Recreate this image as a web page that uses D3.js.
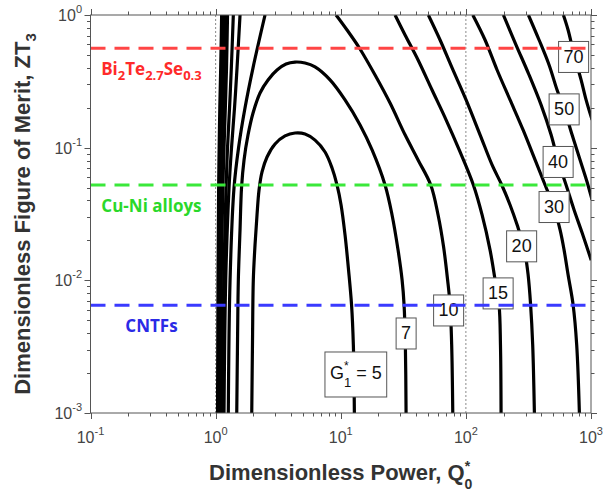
<!DOCTYPE html>
<html><head><meta charset="utf-8">
<script src="https://cdn.jsdelivr.net/npm/d3@7"></script>
<style>body{margin:0;background:#fff}</style>
</head><body>
<svg id="chart" width="604" height="493"></svg>
<script>
// ---------------- data ----------------
const xMajor = [0.1, 1, 10, 100, 1000];
const xMajorExp = ["-1", "0", "1", "2", "3"];
const yMajor = [0.001, 0.01, 0.1, 1];
const yMajorExp = ["-3", "-2", "-1", "0"];
const refQ = [1, 100];

const materialNames = ["Bi2Te2.7Se0.3", "Cu-Ni alloys", "CNTFs"];
const materialZT = [0.562, 0.0523, 0.00648];
const materialColor = ["#ff4545", "#3ae83a", "#3a3aff"];
const materialTextColor = ["#ff2a2a", "#2ad82a", "#2a2ae6"];
const materialLabelQ = 0.307;

// left legs of the higher contours (read at fixed ZT rows)
const leftLegZT = [0.001, 0.01, 0.05, 0.1, 0.2, 0.4, 1];
const left10 = [1.263, 1.304, 1.403, 1.525, 1.718, 1.990, 2.483];
const left15 = [1.167, 1.204, 1.280, 1.340, 1.416, 1.483, 1.567];
const left20 = [1.133, 1.161, 1.211, 1.245, 1.292, 1.335, 1.385];
const left30 = [1.088, 1.109, 1.142, 1.167, 1.196, 1.222, 1.245];
const left40 = [1.069, 1.084, 1.111, 1.131, 1.157, 1.178, 1.200];
const left50 = [1.051, 1.063, 1.080, 1.096, 1.117, 1.138, 1.157];
const left70 = [1.036, 1.045, 1.057, 1.067, 1.080, 1.098, 1.117];

// closed arches
const g5Q  = [1.944,1.972,2.001,2.065,2.142,2.223,2.349,2.576,2.985,3.587,4.312,5.184,6.231,7.490,8.520,9.344,10.06,10.82,11.54,12.20,12.61,12.85];
const g5ZT = [0.001,0.00356,0.0101,0.0185,0.0311,0.0480,0.0656,0.0851,0.1066,0.1226,0.129,0.1268,0.114,0.0928,0.0703,0.0523,0.0370,0.0220,0.0120,0.00653,0.00326,0.001];
const g7Q  = [1.475,1.497,1.519,1.567,1.611,1.687,1.816,1.991,2.264,2.624,3.096,3.653,4.312,5.184,6.231,8.212,10.82,14.27,17.80,22.60,25.71,28.71,30.91,32.07,32.84,33.27];
const g7ZT = [0.001,0.00356,0.0101,0.0240,0.05,0.0808,0.125,0.1826,0.2584,0.324,0.385,0.427,0.442,0.4347,0.4058,0.324,0.229,0.1483,0.0961,0.0523,0.0311,0.0169,0.0101,0.00653,0.00326,0.001];

// right legs
const r10Q  = [9.173,11.23,14.09,18.80,24.78,32.66,41.49,52.41,59.97,66.34,71.42,74.78,77.01,78.59];
const r10ZT = [1,0.771,0.564,0.353,0.217,0.125,0.0808,0.0523,0.0311,0.0179,0.0101,0.00653,0.00326,0.001];
const r15Q  = [27.16,32.66,41.49,53.68,69.46,89.87,114.8,134.8,156.1,171.2,184.2,189.0,191.1];
const r15ZT = [1,0.707,0.458,0.272,0.162,0.0928,0.0523,0.0311,0.0169,0.0101,0.00653,0.00326,0.001];
const r20Q  = [50.14,62.22,77.60,100.4,129.9,162.0,193.6,225.6,256.7,291.9,314.4,329.1,342.0,352.9];
const r20ZT = [1,0.648,0.399,0.229,0.125,0.0741,0.0523,0.0370,0.0262,0.0175,0.0110,0.00653,0.00326,0.001];
const r30Q  = [113.6,142.4,177.6,225.6,286.6,357.4,429.7,504.2,566.2,609.6,656.1,719.6,768.6,807.7];
const r30ZT = [1,0.648,0.385,0.229,0.136,0.0808,0.0523,0.0357,0.0240,0.0169,0.0110,0.00653,0.00326,0.001];
const r40Q  = [199.4,252.0,320.1,399.1,479.8,545.7,632.3,732.8,849.0,1004];
const r40ZT = [1,0.594,0.353,0.210,0.125,0.0794,0.0523,0.0339,0.0228,0.0142];
const r50Q  = [316.1,384.7,462.5,535.8,609.6,706.2,818.3,930.6,1020];
const r50ZT = [1,0.648,0.420,0.272,0.196,0.125,0.0808,0.0551,0.0404];
const r70Q  = [601.8,656.1,739.5,833.5,913.7,1020];
const r70ZT = [1,0.771,0.483,0.324,0.229,0.162];

// contour labels
const labelText = ["70","50","40","30","20","15","10","7","5"];
const labelQ  = [726, 610, 546, 507, 279, 181, 72.8, 33.3, 13.2];
const labelZT = [0.487, 0.196, 0.0787, 0.0360, 0.0182, 0.00804, 0.00598, 0.00401, 0.00202];

// ---------------- drawing ----------------
const X0 = 90.5, X1 = 591, Y0 = 15, Y1 = 413;
const svg = d3.select("#chart");
const x = d3.scaleLog().domain([0.1, 1000]).range([X0, X1]);
const y = d3.scaleLog().domain([0.001, 1]).range([Y1, Y0]);

svg.append("rect").attr("width", 604).attr("height", 493).attr("fill", "#fff");
svg.append("defs").append("clipPath").attr("id", "clip")
  .append("rect").attr("x", X0).attr("y", Y0).attr("width", X1 - X0).attr("height", Y1 - Y0);

// dotted reference verticals
svg.selectAll(".vref").data(refQ).enter().append("line")
  .attr("x1", d => x(d)).attr("x2", d => x(d)).attr("y1", Y0).attr("y2", Y1)
  .attr("stroke", "#8a8a8a").attr("stroke-width", 1).attr("stroke-dasharray", "2,2");

const line = d3.line().x(d => x(d[0])).y(d => y(d[1])).curve(d3.curveCatmullRom.alpha(0.5));
const cg = svg.append("g").attr("clip-path", "url(#clip)");
const series = [
  d3.zip(g5Q, g5ZT), d3.zip(g7Q, g7ZT),
  d3.zip(left10, leftLegZT), d3.zip(left15, leftLegZT), d3.zip(left20, leftLegZT),
  d3.zip(left30, leftLegZT), d3.zip(left40, leftLegZT), d3.zip(left50, leftLegZT), d3.zip(left70, leftLegZT),
  d3.zip(r10Q, r10ZT), d3.zip(r15Q, r15ZT), d3.zip(r20Q, r20ZT), d3.zip(r30Q, r30ZT),
  d3.zip(r40Q, r40ZT), d3.zip(r50Q, r50ZT), d3.zip(r70Q, r70ZT)
];
cg.selectAll(".contour").data(series).enter().append("path")
  .attr("d", line).attr("fill", "none").attr("stroke", "#000").attr("stroke-width", 3.2)
  .attr("stroke-linejoin", "round");

// contour labels
labelText.forEach((t, i) => {
  const gg = svg.append("g").attr("transform", `translate(${x(labelQ[i])},${y(labelZT[i])})`);
  const txt = gg.append("text").attr("text-anchor", "middle").attr("y", 6.5)
    .attr("font-family", "Liberation Sans, Arial, sans-serif").attr("font-size", 18).attr("fill", "#111");
  if (t === "5") {
    txt.append("tspan").text("G");
    txt.append("tspan").attr("font-size", 12).attr("dy", -9).text("*");
    txt.append("tspan").attr("font-size", 13).attr("dx", -4.7).attr("dy", 17).text("1");
    txt.append("tspan").attr("dy", -8).text("\u00a0= 5");
  } else {
    txt.text(t);
  }
  const bb = txt.node().getBBox();
  const padX = 5, padY = t === "5" ? 7 : 5.5;
  gg.insert("rect", "text")
    .attr("x", bb.x - padX).attr("y", bb.y - padY)
    .attr("width", bb.width + 2 * padX).attr("height", bb.height + 2 * padY)
    .attr("fill", "#fff").attr("stroke", "#555").attr("stroke-width", 1);
});

// material dashed lines (on top)
svg.selectAll(".mat").data(materialZT).enter().append("line")
  .attr("x1", X0).attr("x2", X1).attr("y1", d => y(d)).attr("y2", d => y(d))
  .attr("stroke", (d, i) => materialColor[i]).attr("stroke-width", 3).attr("stroke-dasharray", "15,9");

materialNames.forEach((n, i) => {
  const t = svg.append("text").attr("x", x(materialLabelQ)).attr("y", y(materialZT[i]) + 27)
    .attr("text-anchor", "middle").attr("font-family", "Open Sans, sans-serif").attr("font-weight", "bold")
    .attr("font-size", 17).attr("fill", materialTextColor[i]);
  if (i === 0) {
    const parts = [["Bi", 0], ["2", 1], ["Te", 0], ["2.7", 1], ["Se", 0], ["0.3", 1]];
    let sub = false;
    parts.forEach(([s, isSub]) => {
      const ts = t.append("tspan").text(s);
      if (isSub && !sub) { ts.attr("dy", 5).attr("font-size", 13); sub = true; }
      else if (isSub) { ts.attr("font-size", 13); }
      else if (sub) { ts.attr("dy", -5); sub = false; }
    });
  } else t.text(n);
});

// frame
svg.append("rect").attr("x", X0).attr("y", Y0).attr("width", X1 - X0).attr("height", Y1 - Y0)
  .attr("fill", "none").attr("stroke", "#555").attr("stroke-width", 1);

// ticks (outward)
const isMajor = v => Math.abs(Math.log10(v) - Math.round(Math.log10(v))) < 1e-6;
const tg = svg.append("g").attr("stroke", "#555").attr("stroke-width", 1);
x.ticks().forEach(v => {
  const L = isMajor(v) ? 6 : 3.5, px = Math.round(x(v)) + 0.5;
  tg.append("line").attr("x1", px).attr("x2", px).attr("y1", Y1).attr("y2", Y1 + L);
  tg.append("line").attr("x1", px).attr("x2", px).attr("y1", Y0).attr("y2", Y0 - L);
});
y.ticks().forEach(v => {
  const L = isMajor(v) ? 6 : 3.5, py = Math.round(y(v)) + 0.5;
  tg.append("line").attr("y1", py).attr("y2", py).attr("x1", X0).attr("x2", X0 - L);
  tg.append("line").attr("y1", py).attr("y2", py).attr("x1", X1).attr("x2", X1 + L);
});

// tick labels
const tickFont = "Liberation Sans, Arial, sans-serif";
xMajor.forEach((v, i) => {
  const t = svg.append("text").attr("x", x(v)).attr("y", 443).attr("text-anchor", "middle")
    .attr("font-family", tickFont).attr("font-size", 16).attr("fill", "#444");
  t.append("tspan").text("10");
  t.append("tspan").attr("dy", -8).attr("font-size", 11).text(xMajorExp[i]);
});
yMajor.forEach((v, i) => {
  const t = svg.append("text").attr("x", X0 - 8.5).attr("y", y(v) + 6).attr("text-anchor", "end")
    .attr("font-family", tickFont).attr("font-size", 16).attr("fill", "#444");
  t.append("tspan").text("10");
  t.append("tspan").attr("dy", -8).attr("font-size", 11).text(yMajorExp[i]);
});

// axis titles
const xt = svg.append("text").attr("x", (X0 + X1) / 2).attr("y", 480).attr("text-anchor", "middle")
  .attr("font-family", tickFont).attr("font-weight", "bold").attr("font-size", 22).attr("fill", "#333");
xt.append("tspan").text("Dimensionless Power, Q");
xt.append("tspan").attr("font-size", 14).attr("dy", -9).text("*");
xt.append("tspan").attr("font-size", 14).attr("dx", -5.5).attr("dy", 18).text("0");

const yt = svg.append("text").attr("transform", `translate(30,${(Y0 + Y1) / 2}) rotate(-90)`)
  .attr("text-anchor", "middle").attr("font-family", tickFont).attr("font-weight", "bold")
  .attr("font-size", 22).attr("fill", "#333");
yt.append("tspan").text("Dimensionless Figure of Merit, ZT");
yt.append("tspan").attr("font-size", 15).attr("dy", 6).text("3");
</script>
</body></html>
